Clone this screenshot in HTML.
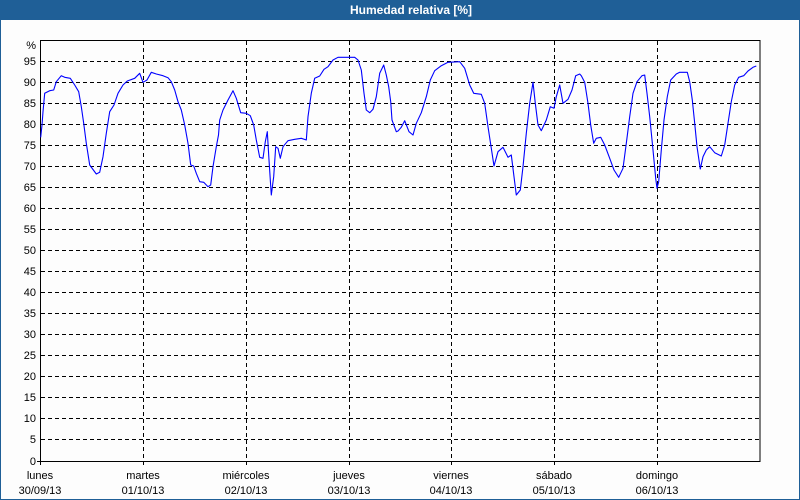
<!DOCTYPE html>
<html>
<head>
<meta charset="utf-8">
<style>
html,body{margin:0;padding:0;background:#fff;}
body{width:800px;height:500px;overflow:hidden;}
svg{display:block;}
text{font-family:"Liberation Sans","DejaVu Sans",sans-serif;}
</style>
</head>
<body>
<svg width="800" height="500" viewBox="0 0 800 500" xmlns="http://www.w3.org/2000/svg">
  <rect x="0" y="0" width="800" height="500" fill="#fdfdfd"/>
  <!-- title bar -->
  <rect x="0" y="0" width="800" height="20" fill="#1f5f97"/>
  <text x="350" y="14" font-size="12" font-weight="bold" fill="#ffffff">Humedad relativa [%]</text>
  <!-- outer border -->
  <rect x="0.5" y="19.5" width="799" height="480" fill="none" stroke="#1f5f97" stroke-width="1"/>

  <!-- horizontal grid -->
  <g stroke="#000" stroke-width="1" stroke-dasharray="4,3" shape-rendering="crispEdges">
    <line x1="41" y1="439.5" x2="760" y2="439.5"/>
    <line x1="41" y1="418.5" x2="760" y2="418.5"/>
    <line x1="41" y1="397.5" x2="760" y2="397.5"/>
    <line x1="41" y1="376.5" x2="760" y2="376.5"/>
    <line x1="41" y1="355.5" x2="760" y2="355.5"/>
    <line x1="41" y1="334.5" x2="760" y2="334.5"/>
    <line x1="41" y1="313.5" x2="760" y2="313.5"/>
    <line x1="41" y1="292.5" x2="760" y2="292.5"/>
    <line x1="41" y1="271.5" x2="760" y2="271.5"/>
    <line x1="41" y1="250.5" x2="760" y2="250.5"/>
    <line x1="41" y1="229.5" x2="760" y2="229.5"/>
    <line x1="41" y1="208.5" x2="760" y2="208.5"/>
    <line x1="41" y1="187.5" x2="760" y2="187.5"/>
    <line x1="41" y1="166.5" x2="760" y2="166.5"/>
    <line x1="41" y1="145.5" x2="760" y2="145.5"/>
    <line x1="41" y1="124.5" x2="760" y2="124.5"/>
    <line x1="41" y1="103.5" x2="760" y2="103.5"/>
    <line x1="41" y1="82.5" x2="760" y2="82.5"/>
    <line x1="41" y1="61.5" x2="760" y2="61.5"/>
  </g>
  <!-- vertical grid -->
  <g stroke="#000" stroke-width="1" stroke-dasharray="4,3" shape-rendering="crispEdges">
    <line x1="143.5" y1="41" x2="143.5" y2="466"/>
    <line x1="246.5" y1="41" x2="246.5" y2="466"/>
    <line x1="349.5" y1="41" x2="349.5" y2="466"/>
    <line x1="451.5" y1="41" x2="451.5" y2="466"/>
    <line x1="554.5" y1="41" x2="554.5" y2="466"/>
    <line x1="657.5" y1="41" x2="657.5" y2="466"/>
  </g>
  <!-- frame -->
  <rect x="40.5" y="40.5" width="719.5" height="421" fill="none" stroke="#000" stroke-width="1" shape-rendering="crispEdges"/>
  <line x1="37" y1="461.5" x2="41" y2="461.5" stroke="#000" shape-rendering="crispEdges"/>
  <line x1="40.5" y1="461" x2="40.5" y2="465" stroke="#000" shape-rendering="crispEdges"/>

  <!-- y labels -->
  <g font-size="11" fill="#000" text-anchor="end">
    <text x="36" y="49">%</text>
    <text x="36" y="65">95</text>
    <text x="36" y="86">90</text>
    <text x="36" y="107">85</text>
    <text x="36" y="128">80</text>
    <text x="36" y="149">75</text>
    <text x="36" y="170">70</text>
    <text x="36" y="191">65</text>
    <text x="36" y="212">60</text>
    <text x="36" y="233">55</text>
    <text x="36" y="254">50</text>
    <text x="36" y="275">45</text>
    <text x="36" y="296">40</text>
    <text x="36" y="317">35</text>
    <text x="36" y="338">30</text>
    <text x="36" y="359">25</text>
    <text x="36" y="380">20</text>
    <text x="36" y="401">15</text>
    <text x="36" y="422">10</text>
    <text x="36" y="443">5</text>
    <text x="36" y="465">0</text>
  </g>

  <!-- x labels -->
  <g font-size="11" fill="#000" text-anchor="middle">
    <text x="40" y="479">lunes</text><text x="40" y="494">30/09/13</text>
    <text x="143" y="479">martes</text><text x="143" y="494">01/10/13</text>
    <text x="246" y="479">miércoles</text><text x="246" y="494">02/10/13</text>
    <text x="349" y="479">jueves</text><text x="349" y="494">03/10/13</text>
    <text x="451" y="479">viernes</text><text x="451" y="494">04/10/13</text>
    <text x="554" y="479">sábado</text><text x="554" y="494">05/10/13</text>
    <text x="657" y="479">domingo</text><text x="657" y="494">06/10/13</text>
  </g>

  <!-- series -->
  <polyline fill="none" stroke="#0000ff" stroke-width="1.1" stroke-linejoin="round" points="
40.7,137.3 42,125 43,111.7 44.7,93.3 49.7,90.7 53.7,90 56.3,81.7 61.3,75.7 64.7,77.3 70.3,78.3
74.7,85 78.7,91.7 81.3,106.7 83.7,123.3 86.3,143.3 89.7,165 96.3,174 99.7,172.3 103,156.7
106.3,133.3 109.7,111.7 114,105 118,93.3 123,85 127.3,81 134.7,78.3 139.7,73.3 143,82.3
147,80 151.3,72.3 156.3,74 163,75.7 168,77.7 171.3,81.7 174.7,90 178,101.7 181.3,110
184.7,125 188,143.3 190.7,165 193.7,166 196.3,173.3 199.7,181.7 203.7,182.3 208,186.7
210.7,185 213,166.7 216.3,146.7 218.5,135 219.7,120 223,110 228,100 233,90.7 236.3,98.3
240.7,112.7 246.3,113.3 250.3,115.7 253.7,125 256.3,140 259.7,157.3 263,158.3 265.3,141.7
267.3,131.7 269,160 271.3,195 273.7,176.7 275.7,146.7 278,148.3 280.3,158.3 283,146.7
288,140.7 294.7,139.3 301.3,138.3 306.3,140 308,116.7 311.3,93.3 314.7,78.3 319.7,76
324,69.3 328,66.7 333,60 338,57.3 354.7,57.3 358,60 361.3,70 364,93.3 366.3,110 369.7,112.7
373,109.3 376.3,96.7 379.7,73.3 383.7,65 386.3,75 388.7,86.7 390.7,101.7 392,120 396.3,131.7
398,131 401.3,127.3 404.7,120.7 409,131.7 413,135 416.3,123.3 421.3,112.7 426.3,96.7
430.3,80 434.7,70.7 441.3,65.7 448,62.3 459.7,61.7 464.7,68.3 469.7,85 473.7,93.3 481.3,94.3
484.7,103.3 488,126.7 491.3,148.3 494,166 498,151.7 503,147.3 508,157.3 511.3,155 514,176.7
516.3,195 520.3,190 523,166.7 526.3,133.3 529.7,103.3 533,82.3 535.3,103.3 538,125 541.3,130.7
546.3,120 550.3,106.7 554,108.3 556.3,96.7 559.7,85 563,103.3 568,99.3 572,90 575.7,75.7
579.7,74 581.3,75.7 584.7,82.3 588,103.3 590.7,125 593.7,143.3 596.3,138.3 600.7,137.3
604.7,145 609.7,158.3 614,170 618.7,177.3 623,168.3 626.3,143.3 629.7,116.7 633,93.3 637,81.7
642,75.7 644.7,75 647,93.3 649.7,116.7 653,150 655.7,178.3 657,188.3 658.7,181.7 661.3,150
664,120 667.3,96.7 670.7,80 676.3,74 679.7,72.3 687.3,72.3 689.7,81.7 692.3,100 694.7,123.3
697,146.7 700.3,169 703,156.7 706.3,150 709.7,146.7 714.7,152.7 721.3,156 724.7,145 728,123.3
731.3,101.7 734.7,85 738.7,77.3 743.7,75.7 748,71 753,67.3 756.3,66"/>
</svg>
</body>
</html>
